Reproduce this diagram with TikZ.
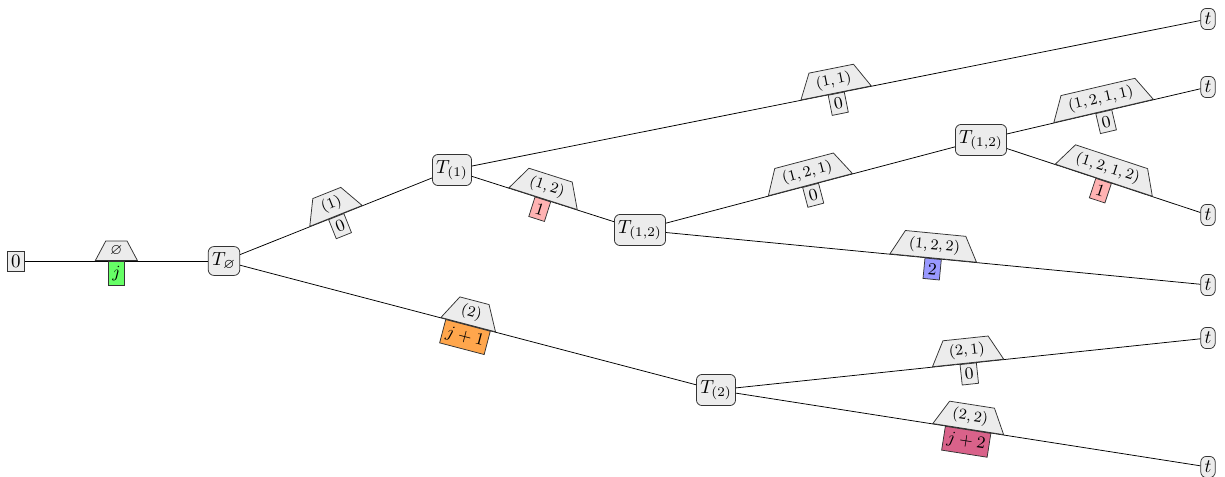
\documentclass[tikz,border=0pt]{standalone}
\usepackage{amssymb}
\usetikzlibrary{shapes.geometric}
\definecolor{rosepink}{RGB}{217,98,138}

\begin{document}
\begin{tikzpicture}[x=0.0185cm,y=-0.0185cm,
        treenode/.style={rectangle, rounded corners=3pt, draw=black!80, fill=gray!15, inner xsep=2pt, inner ysep=3pt},
        leafnode/.style={rectangle, rounded corners=3pt, draw=black!80, fill=gray!15, inner xsep=2pt, inner ysep=2.5pt},
        startnode/.style={rectangle, draw=black!80, fill=gray!15, inner sep=2pt},
        cutnode/.style={trapezium, trapezium left angle=62, trapezium right angle=62, draw=black!80, fill=gray!15,
                        font=\footnotesize, inner xsep=2.5pt, inner ysep=2.5pt, sloped, anchor=south, pos=0.5},
        valnode/.style={rectangle, draw=black!80, fill=gray!15, font=\small, inner xsep=2pt, inner ysep=2.5pt, sloped, anchor=north, pos=0.5}]
        \useasboundingbox (0,0) rectangle (1225,476);
        \node[startnode] (start) at (16,261) {$0$};
        \node[treenode] (tempty) at (224,261) {$T_{\varnothing}$};
        \node[treenode] (tone) at (452,170) {$T_{(1)}$};
        \node[treenode] (tonetwo) at (640,230) {$T_{(1,2)}$};
        \node[treenode] (tonetwob) at (981,140) {$T_{(1,2)}$};
        \node[treenode] (ttwo) at (716,390) {$T_{(2)}$};
        \node[leafnode] (leafa) at (1208,19) {$t$};
        \node[leafnode] (leafb) at (1208,87) {$t$};
        \node[leafnode] (leafc) at (1208,215) {$t$};
        \node[leafnode] (leafd) at (1208,285) {$t$};
        \node[leafnode] (leafe) at (1208,338) {$t$};
        \node[leafnode] (leaff) at (1208,467) {$t$};
        \draw (start) -- node[cutnode] {$\varnothing$} node[valnode,fill=green!60] {$j$} (tempty);
        \draw (tempty) -- node[cutnode] {$(1)$} node[valnode] {$0$} (tone);
        \draw (tempty) -- node[cutnode] {$(2)$} node[valnode,fill=orange!70] {$j+1$} (ttwo);
        \draw (tone) -- node[cutnode] {$(1,1)$} node[valnode] {$0$} (leafa);
        \draw (tone) -- node[cutnode] {$(1,2)$} node[valnode,fill=red!30] {$1$} (tonetwo);
        \draw (tonetwo) -- node[cutnode] {$(1,2,1)$} node[valnode] {$0$} (tonetwob);
        \draw (tonetwo) -- node[cutnode] {$(1,2,2)$} node[valnode,fill=blue!40] {$2$} (leafd);
        \draw (tonetwob) -- node[cutnode] {$(1,2,1,1)$} node[valnode] {$0$} (leafb);
        \draw (tonetwob) -- node[cutnode] {$(1,2,1,2)$} node[valnode,fill=red!30] {$1$} (leafc);
        \draw (ttwo) -- node[cutnode] {$(2,1)$} node[valnode] {$0$} (leafe);
        \draw (ttwo) -- node[cutnode] {$(2,2)$} node[valnode,fill=rosepink] {$j+2$} (leaff);
\end{tikzpicture}
\end{document}
